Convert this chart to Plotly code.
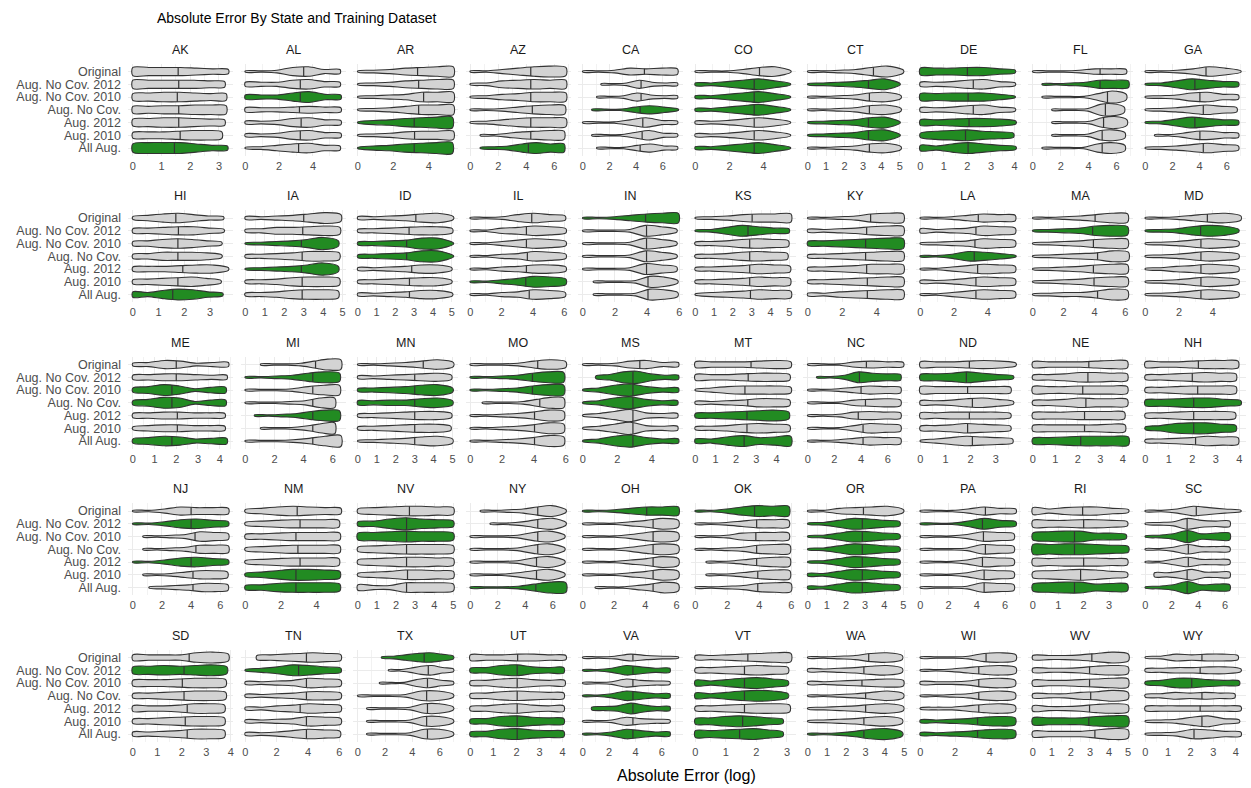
import numpy as np
import plotly.graph_objects as go

# ---------------------------------------------------------------- data
states = ["AK", "AL", "AR", "AZ", "CA", "CO", "CT", "DE", "FL", "GA",
          "HI", "IA", "ID", "IL", "IN", "KS", "KY", "LA", "MA", "MD",
          "ME", "MI", "MN", "MO", "MS", "MT", "NC", "ND", "NE", "NH",
          "NJ", "NM", "NV", "NY", "OH", "OK", "OR", "PA", "RI", "SC",
          "SD", "TN", "TX", "UT", "VA", "VT", "WA", "WI", "WV", "WY"]

datasets = ["Original", "Aug. No Cov. 2012", "Aug. No Cov. 2010", "Aug. No Cov.",
            "Aug. 2012", "Aug. 2010", "All Aug."]

# lower end of each violin (log absolute error), one row per state, datasets in order
err_min = [
    [0, 0, 0, 0, 0, 0, 0], [0, 0, 0, 0, 0, 0, 0], [0, 0, 0, 0, 0, 0, 0],
    [0, 0, 0, 0, 0, 0.72, 0.72], [0, 1.37, 1.05, 0.68, 0, 0.68, 1.05],
    [0, 0, 0, 0, 0, 0, 0], [0, 0, 0, 0, 0, 0, 0], [0, 0, 0, 0, 0, 0, 0],
    [0, 0.67, 0.67, 1.37, 1.37, 1.37, 0.67], [0, 0, 0, 0, 0, 0.69, 0],
    [0, 0, 0, 0, 0, 0, 0], [0, 0, 0, 0, 0, 0, 0], [0, 0, 0, 0, 0, 0, 0],
    [0, 0, 0, 0, 0, 0, 0], [0, 0, 0, 0, 0, 0.66, 0.66], [0, 0, 0, 0, 0, 0, 0],
    [0, 0, 0, 0, 0, 0, 0], [0, 0, 0, 0, 0, 0, 0], [0, 0, 0, 0, 0, 0, 0],
    [0, 0, 0, 0, 0, 0, 0],
    [0, 0, 0, 0, 0, 0, 0], [1.05, 0, 0, 0, 0.63, 1.05, 0], [0, 0, 0, 0, 0, 0, 0],
    [0, 0, 0, 0.76, 0, 0, 0], [0, 0.76, 0, 0, 0, 0, 0], [0, 0, 0, 0, 0, 0, 0],
    [0, 0.67, 0, 0, 0, 0, 0], [0, 0, 0, 0, 0, 0, 0], [0, 0, 0, 0, 0, 0, 0],
    [0, 0, 0, 0, 0, 0, 0],
    [0, 0, 0.7, 0.7, 0, 0.7, 1.12], [0, 0, 0, 0, 0, 0, 0], [0, 0, 0, 0, 0, 0, 0],
    [0.73, 1.46, 0, 0, 0, 0, 0], [0, 0, 0, 0, 0, 0, 0.8], [0, 0, 0, 0, 0.68, 0.68, 0],
    [0, 0, 0, 0, 0, 0, 0], [0, 0, 0, 0, 0, 0, 0], [0, 0, 0, 0, 0, 0, 0],
    [0, 0, 0, 0, 0, 0.69, 0],
    [0, 0, 0, 0, 0, 0, 0], [0.73, 0, 0, 0, 0, 0, 0], [1.74, 2.25, 1.59, 0, 0.66, 0.66, 0.66],
    [0, 0, 0, 0, 0, 0, 0], [0, 0, 0, 0, 0.68, 0, 0], [0, 0, 0, 0, 0, 0, 0],
    [0, 0, 0, 0, 0, 0, 0], [0, 0, 0, 0, 0, 0, 0], [0, 0, 0, 0, 0, 0, 0],
    [0, 0, 0, 0, 0, 0, 0],
]

err_median = [
    [1.58, 1.6, 1.55, 1.6, 1.6, 1.65, 1.45], [3.45, 3.25, 3.25, 3.2, 3.3, 3.25, 3.15],
    [3.37, 3.43, 3.71, 3.43, 3.18, 3.2, 3.18], [4.32, 4.32, 4.32, 4.43, 4.32, 4.32, 4.15],
    [4.62, 4.37, 4.37, 4.3, 4.5, 4.45, 4.3], [3.76, 3.45, 3.45, 3.45, 3.45, 3.45, 3.45],
    [3.57, 3.3, 3.35, 3.35, 3.3, 3.3, 3.35], [2.0, 2.25, 2.03, 2.25, 2.07, 1.92, 2.03],
    [4.82, 4.82, 5.35, 5.2, 5.07, 4.97, 4.97], [4.47, 3.65, 4.02, 4.27, 3.65, 4.02, 4.27],
    [1.67, 1.77, 1.75, 1.75, 1.94, 1.75, 1.55], [3.0, 2.95, 2.88, 2.92, 2.88, 2.92, 2.92],
    [3.09, 2.73, 2.6, 2.6, 2.87, 2.75, 2.75], [3.92, 3.58, 3.58, 3.64, 3.58, 3.54, 3.76],
    [3.9, 3.96, 3.96, 3.96, 3.96, 4.05, 4.05], [3.02, 2.8, 2.89, 2.89, 2.89, 2.89, 2.93],
    [3.64, 3.41, 3.35, 3.35, 3.41, 3.45, 3.45], [3.44, 3.3, 3.24, 3.2, 3.4, 3.3, 3.3],
    [4.04, 3.88, 3.93, 4.2, 3.93, 3.97, 4.2], [3.68, 3.28, 3.3, 3.3, 3.3, 3.3, 3.3],
    [2.0, 2.0, 1.8, 1.8, 2.05, 2.05, 1.8], [4.82, 4.63, 4.63, 4.63, 4.63, 4.63, 4.63],
    [3.45, 3.0, 3.0, 3.0, 3.0, 3.0, 3.0], [4.23, 3.9, 3.9, 4.36, 4.03, 4.03, 4.03],
    [3.31, 2.91, 2.91, 2.91, 2.91, 2.91, 2.91], [2.74, 2.6, 2.44, 2.58, 2.54, 2.54, 2.4],
    [4.4, 3.88, 4.0, 4.33, 3.79, 4.15, 4.15], [1.95, 1.83, 1.88, 2.07, 1.95, 1.88, 2.07],
    [2.49, 2.45, 2.22, 2.36, 2.3, 2.3, 2.13], [2.26, 2.0, 2.23, 2.06, 2.06, 2.06, 2.14],
    [4.0, 4.0, 4.27, 4.33, 4.0, 4.13, 4.13], [2.91, 3.07, 2.84, 2.95, 3.07, 2.84, 2.84],
    [2.7, 2.55, 2.55, 2.55, 2.55, 2.6, 2.55], [4.91, 4.91, 4.91, 4.91, 4.82, 4.82, 4.77],
    [4.09, 4.5, 4.5, 4.5, 4.5, 4.5, 4.5], [3.7, 3.83, 3.78, 3.83, 3.83, 3.9, 3.9],
    [2.91, 2.85, 2.85, 2.85, 2.85, 2.85, 2.85], [4.61, 4.4, 4.47, 4.61, 4.4, 4.52, 4.52],
    [1.96, 2.0, 1.64, 1.64, 2.0, 1.88, 1.64], [3.84, 3.15, 3.15, 3.24, 3.24, 3.15, 3.15],
    [2.3, 2.09, 2.02, 2.09, 2.22, 2.14, 2.22], [3.9, 3.4, 3.9, 3.9, 3.5, 3.9, 3.9],
    [4.86, 5.16, 5.1, 5.04, 5.1, 5.04, 5.1], [2.05, 2.03, 2.03, 2.03, 2.03, 2.03, 2.03],
    [3.8, 3.8, 3.8, 3.8, 3.8, 3.8, 3.8], [1.72, 1.61, 1.61, 1.61, 1.61, 1.55, 1.45],
    [3.16, 2.91, 2.81, 3.0, 3.0, 2.91, 2.91], [3.79, 3.37, 3.37, 3.37, 3.37, 3.3, 3.3],
    [3.1, 2.98, 2.98, 3.04, 2.98, 2.94, 3.26], [2.5, 2.42, 2.05, 2.5, 2.42, 2.5, 2.15],
]

err_max = [
    [3.33, 3.2, 3.25, 3.25, 3.2, 3.1, 3.3], [5.6, 5.6, 5.65, 5.65, 5.65, 5.65, 5.6],
    [5.39, 5.39, 5.39, 5.39, 5.33, 5.39, 5.33], [6.83, 6.83, 6.83, 6.76, 6.83, 6.7, 6.7],
    [7.1, 7.1, 7.1, 7.17, 7.1, 7.1, 7.1], [5.6, 5.57, 5.57, 5.57, 5.57, 5.57, 5.57],
    [5.2, 5.02, 5.07, 5.07, 5.02, 5.02, 5.07], [4.03, 4.03, 4.03, 4.03, 4.06, 3.96, 4.06],
    [6.7, 6.85, 6.7, 6.55, 6.75, 6.6, 6.6], [7.04, 6.86, 6.86, 6.74, 6.86, 6.86, 6.86],
    [3.52, 3.54, 3.45, 3.45, 3.71, 3.42, 3.49], [4.91, 4.86, 4.78, 4.83, 4.78, 4.83, 4.78],
    [5.09, 5.04, 5.09, 5.09, 5.0, 5.0, 5.04], [6.06, 6.1, 6.1, 6.1, 6.1, 6.1, 6.06],
    [5.94, 5.84, 5.84, 5.84, 5.84, 5.9, 5.9], [5.08, 4.98, 4.95, 4.9, 5.04, 5.04, 5.08],
    [5.54, 5.54, 5.54, 5.54, 5.54, 5.54, 5.54], [5.63, 5.63, 5.63, 5.67, 5.63, 5.63, 5.63],
    [6.15, 6.15, 6.15, 6.2, 6.15, 6.15, 6.15], [5.67, 5.54, 5.54, 5.54, 5.54, 5.54, 5.54],
    [4.4, 4.33, 4.28, 4.28, 4.24, 4.24, 4.33], [6.56, 6.47, 6.47, 6.14, 6.47, 6.14, 6.56],
    [5.04, 4.94, 5.0, 5.0, 4.94, 4.9, 5.0], [6.0, 5.87, 5.87, 5.87, 5.87, 5.87, 5.87],
    [5.55, 5.55, 5.55, 5.5, 5.5, 5.5, 5.55], [4.7, 4.64, 4.7, 4.64, 4.6, 4.64, 4.7],
    [7.18, 6.97, 6.97, 6.97, 6.97, 6.97, 6.97], [3.8, 3.7, 3.59, 3.7, 3.59, 3.59, 3.67],
    [4.2, 4.2, 4.2, 4.2, 4.07, 4.1, 4.25], [3.95, 3.86, 3.86, 4.07, 3.83, 3.86, 3.95],
    [6.56, 6.56, 6.56, 6.56, 6.56, 6.5, 6.53], [5.36, 5.25, 5.3, 5.3, 5.25, 5.3, 5.3],
    [5.0, 5.0, 5.0, 5.0, 5.0, 5.0, 5.0], [6.96, 6.96, 6.87, 6.87, 6.87, 6.87, 6.96],
    [6.12, 6.12, 6.12, 6.12, 6.12, 6.12, 6.12], [5.84, 5.84, 5.84, 5.9, 5.9, 5.9, 5.97],
    [5.0, 4.81, 4.81, 4.81, 4.81, 4.81, 4.81], [6.77, 6.77, 6.63, 6.63, 6.63, 6.63, 6.63],
    [3.76, 3.72, 3.67, 3.76, 3.72, 3.72, 3.72], [7.2, 6.36, 6.36, 6.36, 6.36, 6.36, 6.36],
    [3.9, 3.84, 3.79, 3.79, 3.74, 3.74, 3.74], [6.1, 6.1, 6.1, 6.1, 6.1, 6.1, 6.05],
    [7.0, 7.0, 7.0, 7.0, 7.0, 7.0, 7.0], [4.14, 4.05, 4.09, 4.05, 4.05, 4.05, 4.05],
    [7.25, 6.6, 6.6, 6.6, 6.6, 6.6, 6.6], [3.13, 3.04, 3.04, 3.04, 3.09, 2.87, 2.87],
    [4.9, 4.9, 4.96, 4.96, 4.96, 4.9, 4.9], [5.51, 5.51, 5.47, 5.47, 5.47, 5.47, 5.47],
    [5.02, 5.0, 5.0, 5.0, 5.0, 5.0, 5.0], [4.09, 4.22, 4.15, 3.95, 4.22, 4.15, 4.22],
]

# density profile of each violin: relative half-widths (0-9) at 7 evenly spaced
# points from the lower to the upper end
density_profile = [
    ["6666543", "6666654", "5677655", "5566776", "5677654", "4556775", "6888643"],
    ["1126733", "3336743", "3336843", "3334543", "2236743", "2236743", "1246743"],
    ["1235677", "1235676", "1234777", "1235777", "1346788", "1235666", "1346788"],
    ["1135786", "1256766", "1245776", "1124676", "1246776", "1135676", "1236866"],
    ["1125454", "1126322", "1126322", "1114641", "1114732", "1114732", "1114632"],
    ["1113671", "2246851", "2246851", "2246851", "2235751", "2235751", "2246851"],
    ["1123682", "1234681", "1123672", "1123672", "1234781", "1234781", "1123672"],
    ["5556642", "3346742", "5566641", "3346742", "4456652", "3678653", "4368642"],
    ["1112443", "1123665", "1111594", "1112894", "1112794", "1112784", "1111684"],
    ["1124751", "1258643", "1236743", "1235753", "1258643", "1136643", "1235753"],
    ["2467532", "3456642", "3467642", "3466652", "3445662", "3456752", "4368742"],
    ["2234685", "2355675", "1234694", "2345775", "1234694", "2346775", "2346775"],
    ["2234672", "2345663", "2345881", "2345881", "2234662", "2345662", "2234662"],
    ["1125753", "1145763", "1135763", "1134763", "1134663", "1135874", "1134763"],
    ["1124677", "1112862", "1112862", "1112862", "1112863", "1112872", "1112873"],
    ["1235666", "1258643", "2346764", "2346764", "2345764", "2345765", "1345765"],
    ["1123676", "2234676", "3456787", "2345676", "2345776", "2345676", "2245676"],
    ["1124654", "3234764", "1234764", "1137641", "1135764", "2235764", "1135764"],
    ["1123576", "1234786", "1234676", "1234586", "1234676", "1234676", "1233586"],
    ["1124673", "1236872", "1235763", "1235763", "1245763", "1235763", "1235763"],
    ["2365233", "3455433", "3586244", "3587244", "3455443", "2455443", "3576344"],
    ["1112587", "1123686", "1112577", "1112377", "1123687", "1112478", "1112478"],
    ["1123573", "2234563", "2345783", "3344673", "2345663", "2345663", "1234673"],
    ["1112574", "1123687", "1123687", "1112587", "1123586", "1123586", "1123586"],
    ["1125633", "2489533", "1379533", "1379533", "1369433", "1369433", "1379533"],
    ["4444564", "4445664", "1356664", "2234664", "3456785", "2346764", "3368567"],
    ["1114543", "1138654", "1124654", "1114564", "1125654", "1114764", "1124654"],
    ["4445652", "4568642", "5555554", "3346752", "4455553", "3457653", "1357653"],
    ["4444565", "3457765", "5556665", "3457665", "4556665", "4555565", "4567776"],
    ["4445665", "3456765", "3456665", "4567753", "3456664", "2478864", "2345765"],
    ["1136554", "1136753", "1123764", "1123665", "1136753", "1124664", "1234664"],
    ["2467654", "2456665", "3456665", "2456665", "2456665", "2468875", "3467775"],
    ["3567765", "3479764", "5678775", "3567775", "3567765", "2457765", "4337775"],
    ["1123682", "1124782", "1112682", "1112682", "1112682", "1113682", "1112587"],
    ["1124666", "1113585", "1113685", "1113685", "1113585", "1113585", "1113585"],
    ["1136877", "1124665", "1125665", "1123676", "1124676", "1124676", "1123676"],
    ["1145672", "1258753", "1258753", "1258753", "1258753", "2258753", "2258753"],
    ["1113643", "1114853", "1113764", "1112764", "1113764", "1113764", "1112764"],
    ["5356642", "5556653", "5788553", "7788764", "5566654", "4678753", "5788565"],
    ["1137531", "1238544", "1249455", "1137443", "1147443", "3358444", "1249454"],
    ["4444785", "5676785", "4556775", "3456775", "4445775", "3456775", "3345775"],
    ["3456764", "1358753", "2234764", "2234664", "2245764", "2234764", "2235764"],
    ["1246752", "1136742", "1115742", "1112772", "1112772", "1112772", "1112772"],
    ["4445543", "3478544", "3467544", "3467654", "3467544", "3478654", "3478654"],
    ["1125321", "1137533", "1126432", "1137533", "2348533", "1126432", "1137533"],
    ["3345676", "3456764", "4357863", "4357873", "3456775", "4578753", "5567863"],
    ["1123673", "2234673", "2234564", "1123573", "1234673", "1234673", "1124783"],
    ["1112674", "1124674", "2223674", "1123674", "1224674", "2234675", "2234675"],
    ["3334685", "3334675", "4445676", "3335685", "4334675", "5555787", "4444686"],
    ["1254553", "2344552", "2477543", "2354543", "3444443", "1236842", "1237643"],
]

# datasets drawn in green for each state (indices into `datasets`)
highlighted = [
    [6], [2], [4, 6], [6], [3], [1, 2, 3, 6], [1, 4, 5], [0, 2, 4, 5, 6], [1], [1, 4],
    [6], [2, 4], [2, 3], [5], [0], [1], [2], [3], [1], [1],
    [2, 3, 6], [1, 4], [2, 3], [1, 2], [1, 2, 3, 6], [4, 6], [1], [1], [6], [3, 5],
    [1, 4], [5, 6], [1, 2], [6], [0], [0], [1, 2, 3, 4, 5, 6], [1], [2, 3, 6], [2, 6],
    [1], [1], [0], [1, 5, 6], [1, 3, 4, 6], [2, 3, 5, 6], [6], [5, 6], [5], [2],
]

# spacing of the x-axis tick labels in each panel
tick_step = [1, 2, 2, 2, 2, 2, 1, 1, 2, 2,
             1, 1, 1, 2, 2, 1, 2, 2, 2, 2,
             1, 2, 1, 2, 2, 1, 2, 1, 1, 1,
             2, 2, 1, 2, 2, 2, 1, 2, 1, 2,
             1, 2, 2, 1, 2, 1, 1, 2, 1, 1]

# ---------------------------------------------------------------- layout
W, H = 1251, 788
N_COLS = 10
PANEL_LEFT, PANEL_PITCH, PANEL_W = 128.0, 112.5, 105.2
PANEL_TOP, ROW_PITCH, PANEL_H = 63.9, 146.5, 91.8
HALF = 0.48                      # maximum half-width of a violin (category units)
GREY, GREEN, EDGE = "#D3D3D3", "#228B22", "#333333"
FONT = "Liberation Sans, Arial, sans-serif"

n_sets = len(datasets)
y_pos = [n_sets - i for i in range(n_sets)]          # Original on top

fig = go.Figure()
layout = dict(
    width=W, height=H, margin=dict(l=0, r=0, t=0, b=0),
    paper_bgcolor="white", plot_bgcolor="white", showlegend=False,
    font=dict(family=FONT, color="#4D4D4D"),
)
annotations = []

for k, st in enumerate(states):
    r, c = divmod(k, N_COLS)
    sfx = "" if k == 0 else str(k + 1)
    xa, ya = "x" + sfx, "y" + sfx

    x0 = PANEL_LEFT + c * PANEL_PITCH
    top = PANEL_TOP + r * ROW_PITCH
    lo_all, hi_all = min(err_min[k]), max(err_max[k])
    pad = 0.05 * (hi_all - lo_all)

    med_x, med_y = [], []
    for i in range(n_sets):
        lo, md, hi = err_min[k][i], err_median[k][i], err_max[k][i]
        w = np.array([int(ch) for ch in density_profile[k][i]]) * HALF / 9.0
        xs = np.linspace(lo, hi, len(w))
        yc = y_pos[i]
        px = [xs[0]] + list(xs) + list(xs[::-1])
        py = [yc - w[0]] + list(yc + w) + list((yc - w)[::-1])
        fig.add_trace(go.Scatter(
            x=px, y=py, xaxis=xa, yaxis=ya, mode="lines", fill="toself",
            fillcolor=GREEN if i in highlighted[k] else GREY,
            line=dict(color=EDGE, width=1.1, shape="spline", smoothing=0.9),
            hoverinfo="skip",
        ))
        wm = float(np.interp(md, xs, w))
        med_x += [md, md, None]
        med_y += [yc - wm, yc + wm, None]
    fig.add_trace(go.Scatter(
        x=med_x, y=med_y, xaxis=xa, yaxis=ya, mode="lines",
        line=dict(color=EDGE, width=1.2), hoverinfo="skip",
    ))

    layout["xaxis" + sfx] = dict(
        domain=[x0 / W, (x0 + PANEL_W) / W], anchor=ya,
        range=[lo_all - pad, hi_all + pad],
        tickmode="linear", tick0=0, dtick=tick_step[k],
        showgrid=True, gridcolor="#EBEBEB", gridwidth=1,
        minor=dict(dtick=tick_step[k] / 2, showgrid=True, gridcolor="#F2F2F2", gridwidth=0.7),
        zeroline=False, showline=False, ticks="", ticklabelstandoff=2,
        tickfont=dict(size=11, color="#4D4D4D", family=FONT),
    )
    layout["yaxis" + sfx] = dict(
        domain=[1 - (top + PANEL_H) / H, 1 - top / H], anchor=xa,
        range=[0.4, n_sets + 0.6],
        tickmode="array", tickvals=y_pos,
        ticktext=datasets if c == 0 else [""] * n_sets,
        showticklabels=(c == 0),
        showgrid=True, gridcolor="#EBEBEB", gridwidth=1,
        zeroline=False, showline=False, ticks="", ticklabelstandoff=6,
        tickfont=dict(size=12.5, color="#4D4D4D", family=FONT),
    )
    annotations.append(dict(
        text=st, x=(x0 + PANEL_W / 2) / W, y=1 - (top - 14) / H,
        xref="paper", yref="paper", showarrow=False,
        xanchor="center", yanchor="middle",
        font=dict(size=12.5, color="#1A1A1A", family=FONT),
    ))

annotations.append(dict(
    text="Absolute Error By State and Training Dataset",
    x=155 / W, y=1 - 18 / H, xref="paper", yref="paper", showarrow=False,
    xanchor="left", yanchor="middle", font=dict(size=14, color="#000000", family=FONT),
))
annotations.append(dict(
    text="Absolute Error (log)",
    x=(PANEL_LEFT + (9 * PANEL_PITCH + PANEL_W) / 2) / W, y=1 - 775 / H,
    xref="paper", yref="paper", showarrow=False,
    xanchor="center", yanchor="middle", font=dict(size=16, color="#000000", family=FONT),
))
layout["annotations"] = annotations
fig.update_layout(**layout)

fig.write_html("out.html")
